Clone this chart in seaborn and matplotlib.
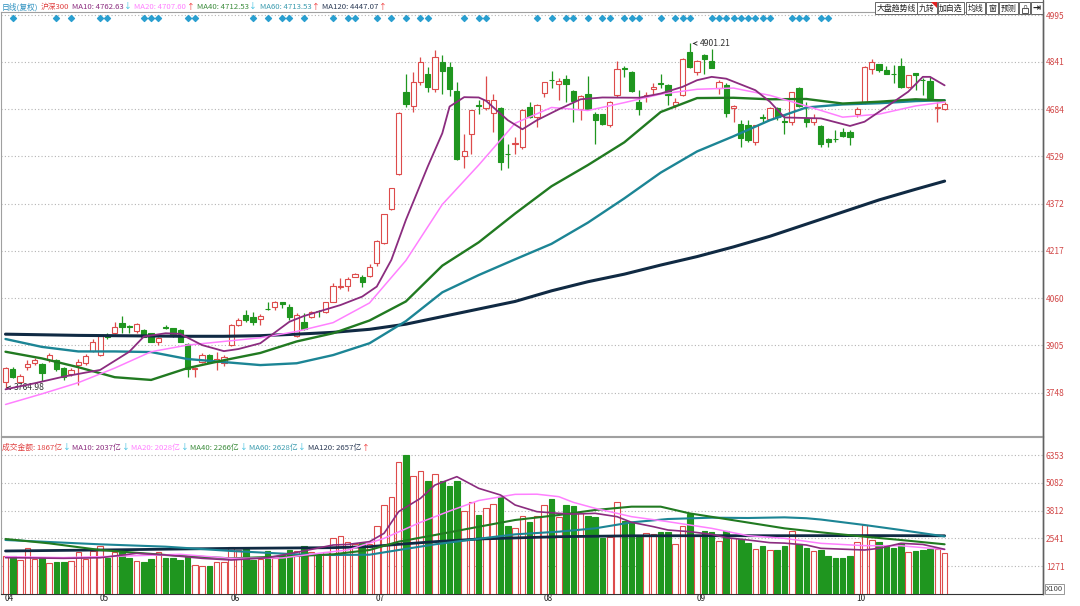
import matplotlib
matplotlib.use("Agg")
import matplotlib.pyplot as plt
import matplotlib.transforms as mtransforms
from matplotlib.patches import Rectangle, Polygon
import seaborn as sns

# ==============================
# data (index 0 = first candle, mid April)
# ==============================
opens = [3785, 3826, 3785, 3835, 3848, 3844, 3857, 3857, 3829, 3811,
         3840, 3846, 3888, 3873, 3939, 3945, 3980, 3968, 3954, 3956,
         3945, 3917, 3967, 3961, 3956, 3910, 3826, 3851, 3873, 3851,
         3846, 3906, 3972, 4005, 4000, 3991, 4026, 4030, 4047, 4032,
         3936, 3983, 3997, 4020, 4016, 4049, 4099, 4101, 4131, 4129,
         4134, 4178, 4242, 4355, 4469, 4742, 4696, 4775, 4800, 4750,
         4839, 4822, 4745, 4530, 4601, 4698, 4687, 4673, 4687, 4538,
         4569, 4560, 4692, 4659, 4739, 4782, 4766, 4783, 4745, 4684,
         4733, 4668, 4668, 4632, 4731, 4821, 4808, 4709, 4728, 4750,
         4770, 4764, 4698, 4731, 4874, 4808, 4863, 4843, 4755, 4764,
         4687, 4635, 4632, 4577, 4658, 4652, 4687, 4645, 4641, 4753,
         4656, 4643, 4629, 4586, 4587, 4610, 4610, 4668, 4709, 4816,
         4833, 4813, 4801, 4827, 4758, 4803, 4781, 4778, 4687, 4684]
closes = [3829, 3802, 3805, 3843, 3857, 3813, 3873, 3826, 3802, 3824,
          3851, 3870, 3917, 3936, 3932, 3967, 3967, 3966, 3974, 3934,
          3917, 3928, 3961, 3939, 3917, 3826, 3830, 3873, 3851, 3859,
          3868, 3972, 3989, 3989, 3983, 4003, 4024, 4049, 4043, 3999,
          4005, 3959, 4016, 4017, 4047, 4101, 4101, 4123, 4139, 4114,
          4164, 4249, 4338, 4423, 4673, 4703, 4775, 4841, 4758, 4855,
          4810, 4750, 4519, 4546, 4681, 4695, 4714, 4714, 4511, 4535,
          4573, 4681, 4659, 4698, 4773, 4780, 4778, 4766, 4712, 4728,
          4684, 4648, 4637, 4708, 4816, 4818, 4744, 4684, 4731, 4758,
          4767, 4731, 4709, 4849, 4822, 4844, 4850, 4821, 4773, 4673,
          4695, 4588, 4582, 4632, 4655, 4689, 4659, 4641, 4740, 4696,
          4641, 4656, 4568, 4575, 4585, 4597, 4591, 4685, 4824, 4841,
          4813, 4802, 4799, 4758, 4797, 4797, 4779, 4720, 4692, 4700]
highs = [3833, 3833, 3809, 3857, 3865, 3848, 3880, 3861, 3833, 3829,
         3859, 3877, 3925, 3939, 3947, 3983, 4002, 3972, 3978, 3958,
         3947, 3934, 3972, 3963, 3958, 3912, 3835, 3879, 3877, 3884,
         3873, 3976, 3994, 4022, 4016, 4008, 4049, 4052, 4049, 4043,
         4013, 4011, 4019, 4021, 4049, 4112, 4126, 4129, 4145, 4137,
         4175, 4252, 4340, 4425, 4676, 4802, 4806, 4857, 4825, 4880,
         4863, 4841, 4775, 4602, 4681, 4714, 4794, 4736, 4692, 4571,
         4593, 4684, 4709, 4700, 4775, 4811, 4786, 4797, 4747, 4730,
         4794, 4676, 4670, 4711, 4844, 4827, 4810, 4747, 4742, 4772,
         4802, 4766, 4720, 4852, 4901.21, 4846, 4868, 4882, 4780, 4770,
         4698, 4648, 4648, 4632, 4668, 4692, 4692, 4670, 4742, 4756,
         4709, 4668, 4632, 4588, 4615, 4621, 4615, 4692, 4827, 4849,
         4835, 4827, 4830, 4852, 4797, 4805, 4786, 4791, 4709, 4709]
lows = [3764.98, 3796, 3782, 3824, 3840, 3789, 3850, 3822, 3791, 3805,
        3774, 3840, 3884, 3870, 3925, 3943, 3945, 3945, 3945, 3932,
        3915, 3906, 3958, 3932, 3915, 3802, 3802, 3848, 3846, 3824,
        3837, 3903, 3969, 3983, 3972, 3972, 4021, 4021, 4029, 3988,
        3933, 3957, 3994, 3999, 4011, 4047, 4090, 4085, 4129, 4096,
        4131, 4167, 4239, 4352, 4467, 4692, 4676, 4764, 4742, 4742,
        4734, 4728, 4516, 4489, 4538, 4668, 4681, 4610, 4483, 4489,
        4538, 4552, 4654, 4626, 4725, 4753, 4714, 4709, 4643, 4648,
        4681, 4571, 4632, 4626, 4725, 4791, 4742, 4665, 4709, 4731,
        4753, 4698, 4687, 4728, 4819, 4797, 4802, 4819, 4736, 4660,
        4643, 4560, 4577, 4566, 4643, 4648, 4648, 4604, 4632, 4692,
        4626, 4632, 4560, 4558, 4577, 4593, 4566, 4659, 4703, 4802,
        4808, 4800, 4770, 4753, 4753, 4747, 4731, 4717, 4643, 4681]
volumes = [1746, 1746, 1547, 2081, 1578, 1624, 1395, 1471, 1441, 1502,
           1898, 1578, 1959, 2203, 1654, 1929, 1898, 1624, 1502, 1471,
           1593, 1929, 1654, 1624, 1547, 1730, 1318, 1288, 1288, 1441,
           1441, 2127, 2005, 2051, 1547, 1593, 1959, 1624, 1776, 2005,
           1959, 2188, 1898, 1776, 1929, 2570, 2661, 2387, 2265, 2310,
           2265, 3104, 4065, 4447, 6018, 6353, 5393, 5622, 5164, 5469,
           5164, 4935, 5164, 3790, 4218, 3620, 3913, 4096, 4447, 3104,
           2997, 3562, 3302, 3562, 4065, 4340, 3531, 4065, 4035, 3684,
           3577, 3531, 2570, 2615, 4218, 3333, 3272, 2615, 2768, 2722,
           2844, 2814, 2265, 3104, 3638, 2692, 2875, 2814, 2432, 2875,
           2539, 2493, 2326, 2036, 2188, 1990, 2005, 2203, 2875, 2265,
           2081, 1959, 2005, 1730, 1654, 1654, 1730, 2356, 3150, 2463,
           2356, 2203, 2081, 2310, 1898, 1959, 1990, 2051, 2051, 1867]

# moving averages of price, read at sample candles
ma_idx = [0, 5, 10, 15, 20, 25, 30, 35, 40, 45, 50, 55, 60, 65, 70, 75, 80,
          85, 90, 95, 100, 105, 110, 115, 120, 125, 129]
ma20_vals = [3710, 3745, 3782, 3830, 3884, 3906, 3918, 3930, 3951, 3980, 4045,
             4185, 4370, 4500, 4638, 4690, 4680, 4706, 4734, 4750, 4754, 4730,
             4695, 4658, 4668, 4695, 4708]
ma40_vals = [3884, 3862, 3833, 3800, 3791, 3830, 3856, 3880, 3918, 3945, 3987,
             4050, 4168, 4245, 4340, 4430, 4500, 4575, 4675, 4721, 4722, 4717,
             4718, 4703, 4709, 4717, 4713]
ma60_vals = [3926, 3900, 3885, 3885, 3883, 3860, 3850, 3840, 3846, 3873, 3912,
             3985, 4080, 4137, 4189, 4240, 4310, 4390, 4475, 4545, 4595, 4648,
             4690, 4700, 4704, 4711, 4714]
ma120_vals = [3942, 3940, 3938, 3937, 3936, 3935, 3935, 3937, 3942, 3948, 3958,
              3975, 4000, 4025, 4050, 4085, 4115, 4140, 4170, 4198, 4230, 4265,
              4305, 4345, 4385, 4420, 4447]
ma10_idx = [0, 4, 8, 13, 17, 19, 22, 24, 27, 30, 32, 35, 39, 41, 46, 49, 51,
            53, 55, 58, 60, 61, 63, 65, 66, 69, 71, 73, 76, 79, 82, 87, 90, 93,
            95, 97, 99, 103, 105, 107, 112, 116, 118, 121, 124, 126, 127, 129]
ma10_vals = [3760, 3780, 3802, 3824, 3884, 3934, 3945, 3943, 3906, 3886, 3893,
             3912, 3983, 4002, 4038, 4066, 4099, 4187, 4319, 4495, 4605, 4693,
             4724, 4723, 4712, 4648, 4618, 4648, 4684, 4717, 4723, 4722, 4736,
             4758, 4780, 4791, 4785, 4747, 4709, 4657, 4654, 4629, 4643, 4692,
             4742, 4791, 4791, 4763]

# moving averages of turnover
vma10_idx = [0, 8, 13, 18, 22, 27, 31, 36, 40, 45, 47, 50, 52, 54, 57, 59, 62,
             65, 68, 70, 73, 76, 78, 81, 84, 86, 89, 91, 94, 97, 99, 102, 105,
             107, 110, 112, 118, 120, 123, 126, 129]
vma10_vals = [1654, 1624, 1650, 1853, 1780, 1624, 1547, 1650, 1898, 2234, 2260,
              2387, 2768, 3760, 4370, 4981, 5362, 4828, 4523, 4065, 3760, 3684,
              3650, 3684, 3531, 3272, 3073, 2920, 2844, 2722, 2570, 2463, 2341,
              2320, 2234, 2081, 2005, 2081, 2310, 2260, 2037]
vma20_idx = [0, 8, 18, 24, 31, 38, 43, 47, 52, 57, 61, 65, 70, 73, 76, 78, 81,
             86, 91, 97, 102, 107, 112, 118, 123, 129]
vma20_vals = [1700, 1654, 1746, 1807, 1624, 1640, 1853, 2005, 2539, 3272, 3790,
              4270, 4553, 4560, 4447, 4187, 3913, 3531, 3302, 2997, 2661, 2539,
              2310, 2203, 2200, 2028]
vma40_idx = [0, 6, 13, 22, 31, 40, 45, 50, 54, 59, 65, 70, 76, 81, 86, 90, 94,
             99, 107, 112, 118, 123, 129]
vma40_vals = [2509, 2310, 2005, 1776, 1624, 1730, 1807, 2005, 2387, 2692, 3070,
              3379, 3607, 3836, 3989, 3989, 3680, 3420, 2997, 2814, 2615, 2463,
              2266]
vma60_idx = [0, 13, 22, 31, 40, 45, 50, 54, 59, 65, 70, 76, 81, 86, 91, 97,
             102, 107, 110, 112, 118, 123, 129]
vma60_vals = [2463, 2265, 2158, 1960, 1807, 1776, 1790, 2005, 2265, 2520, 2722,
              2844, 2997, 3272, 3424, 3485, 3470, 3500, 3460, 3400, 3150, 2920,
              2628]
vma120_idx = [0, 13, 31, 45, 50, 54, 59, 65, 76, 86, 97, 107, 118, 129]
vma120_vals = [1960, 2005, 2080, 2112, 2158, 2265, 2387, 2509, 2615, 2655, 2660,
               2660, 2665, 2657]

# candles carrying the blue diamond marker on top
signal_idx = [1, 7, 9, 13, 14, 19, 20, 21, 25, 26, 34, 36, 38, 39, 41, 45, 47,
              48, 51, 53, 55, 57, 58, 63, 65, 66, 73, 75, 77, 78, 80, 82, 83,
              85, 86, 87, 90, 92, 93, 94, 97, 98, 99, 100, 101, 102, 103, 104,
              105, 108, 109, 110, 112, 113]

price_ticks = [3748, 3905, 4060, 4217, 4372, 4529, 4684, 4841, 4995]
vol_ticks = [1271, 2541, 3812, 5082, 6353]
month_idx = [0, 13, 31, 51, 74, 95, 117]
month_labels = ["04", "05", "06", "07", "08", "09", "10"]

# ==============================
# style
# ==============================
sns.set_style("white")
plt.rcParams['font.family'] = ['Noto Sans CJK SC', 'DejaVu Sans']

RED = '#dd4b4b'
GREEN = '#1f961f'
C10, C20, C40, C60, C120 = '#8b2c7f', '#ff80ff', '#217a21', '#1c8595', '#102a43'
AXIS_RED = '#d24848'

W, H = 1080, 606
fig = plt.figure(figsize=(W / 100, H / 100), dpi=100)
fig.patch.set_facecolor('white')

X_LEFT, X_RIGHT = 1, 1043
XLIM = ((X_LEFT - 5.5) / 7.28, (X_RIGHT - 5.5) / 7.28)

ax = fig.add_axes([X_LEFT / W, 1 - 436 / H, (X_RIGHT - X_LEFT) / W, 424 / H])
axv = fig.add_axes([X_LEFT / W, 1 - 593.8 / H, (X_RIGHT - X_LEFT) / W, 156.8 / H])


def setup(a, ticks, ylim):
    a.set_xlim(*XLIM)
    a.set_ylim(*ylim)
    a.set_yticks(ticks)
    a.set_yticklabels([str(t) for t in ticks])
    a.yaxis.tick_right()
    a.tick_params(axis='y', length=0, pad=2, labelsize=6, labelcolor=AXIS_RED)
    a.grid(axis='y', linestyle=(0, (1, 2)), color='#b4b4b4', lw=0.8)
    a.grid(axis='x', visible=False)
    for s in ['left', 'top', 'bottom']:
        a.spines[s].set_color('#a0a0a0')
        a.spines[s].set_linewidth(0.8)
    a.spines['right'].set_color('#606060')
    a.spines['right'].set_linewidth(1.0)
    a.set_xlabel('')
    a.set_ylabel('')


# ==============================
# 1. price candles + MAs
# ==============================
n = len(opens)
for i in range(n):
    o, c, h, l = opens[i], closes[i], highs[i], lows[i]
    rise = c >= o
    col = RED if rise else GREEN
    top, bot = max(o, c), min(o, c)
    ax.vlines(i, top, h, color=col, lw=0.9, zorder=2)
    ax.vlines(i, l, bot, color=col, lw=0.9, zorder=2)
    ax.bar(i, max(top - bot, 1.5), bottom=bot, width=0.72,
           facecolor='white' if rise else col, edgecolor=col, lw=0.8, zorder=3)

sns.lineplot(x=ma_idx, y=ma120_vals, ax=ax, color=C120, lw=2.2, zorder=4)
sns.lineplot(x=ma_idx, y=ma60_vals, ax=ax, color=C60, lw=1.7, zorder=4)
sns.lineplot(x=ma_idx, y=ma40_vals, ax=ax, color=C40, lw=1.7, zorder=4)
sns.lineplot(x=ma_idx, y=ma20_vals, ax=ax, color=C20, lw=1.1, zorder=4)
sns.lineplot(x=ma10_idx, y=ma10_vals, ax=ax, color=C10, lw=1.3, zorder=5)

setup(ax, price_ticks, (3606, 5005))
ax.set_xticks([])
ax.scatter(signal_idx, [0.987] * len(signal_idx), marker='D', s=9,
           color='#2a9fd0', transform=ax.get_xaxis_transform(), zorder=6,
           clip_on=False)

lo_i = lows.index(min(lows))
hi_i = highs.index(max(highs))
ax.annotate(f"{lows[lo_i]:.2f}", xy=(lo_i - 0.3, lows[lo_i]), xytext=(lo_i + 1.2, lows[lo_i]),
            va='center', fontsize=6.2, color='#333333',
            arrowprops=dict(arrowstyle='->', color='#333333', lw=0.7))
ax.annotate(f"{highs[hi_i]:.2f}", xy=(hi_i, highs[hi_i]), xytext=(hi_i + 1.4, highs[hi_i]),
            va='center', fontsize=6.2, color='#333333',
            arrowprops=dict(arrowstyle='->', color='#333333', lw=0.7))

# ==============================
# 2. turnover bars + MAs
# ==============================
for i in range(n):
    rise = closes[i] >= opens[i]
    col = RED if rise else GREEN
    axv.bar(i, volumes[i], width=0.76, facecolor='white' if rise else col,
            edgecolor=col, lw=0.8, zorder=3)

sns.lineplot(x=vma120_idx, y=vma120_vals, ax=axv, color=C120, lw=2.0, zorder=4)
sns.lineplot(x=vma60_idx, y=vma60_vals, ax=axv, color=C60, lw=1.5, zorder=4)
sns.lineplot(x=vma40_idx, y=vma40_vals, ax=axv, color=C40, lw=1.5, zorder=4)
sns.lineplot(x=vma20_idx, y=vma20_vals, ax=axv, color=C20, lw=1.1, zorder=4)
sns.lineplot(x=vma10_idx, y=vma10_vals, ax=axv, color=C10, lw=1.2, zorder=5)

setup(axv, vol_ticks, (0, 156.8 * 45.78))
axv.spines['bottom'].set_color('#333333')
axv.set_xticks([m - 0.45 for m in month_idx])
axv.set_xticklabels(month_labels)
axv.tick_params(axis='x', length=6, width=0.7, color='#555555', pad=-6,
                labelsize=6, labelcolor='#222222', direction='out')
shift = mtransforms.ScaledTranslation(2.5 / 100, 0, fig.dpi_scale_trans)
for lab in axv.get_xticklabels():
    lab.set_horizontalalignment('left')
    lab.set_transform(lab.get_transform() + shift)

fig.text(1046 / W, 1 - 589 / H, "X100", fontsize=5.5, color='#444444', va='center',
         bbox=dict(boxstyle='square,pad=0.15', fc='white', ec='#888888', lw=0.6))

# ==============================
# 3. header legends and buttons
# ==============================
renderer = fig.canvas.get_renderer()
UP, DN = '#ee3333', '#33bbdd'


def chain(x, y, items, size=5.6, gap=2.5):
    # items: (text, colour, arrow or None), laid out left to right
    for s, color, arrow in items:
        t = fig.text(x / W, 1 - y / H, s, color=color, fontsize=size, va='center', ha='left')
        x = t.get_window_extent(renderer).x1
        if arrow:
            a = fig.text((x + 0.5) / W, 1 - y / H, arrow, color=UP if arrow == "↑" else DN,
                         fontsize=size, va='center', ha='left')
            x = a.get_window_extent(renderer).x1
        x += gap


chain(2, 7, [("日线(复权)", '#2a8fbf', None),
             ("沪深300", '#e04040', None),
             ("MA10: 4762.63", C10, "↓"),
             ("MA20: 4707.60", C20, "↑"),
             ("MA40: 4712.53", '#3c8c3c', "↓"),
             ("MA60: 4713.53", '#3c9caf', "↑"),
             ("MA120: 4447.07", '#2b3a55', "↑")])

chain(2, 448, [("成交金额: 1867亿", '#e04040', "↓"),
               ("MA10: 2037亿", C10, "↓"),
               ("MA20: 2028亿", C20, "↓"),
               ("MA40: 2266亿", '#3c8c3c', "↓"),
               ("MA60: 2628亿", '#3c9caf', "↓"),
               ("MA120: 2657亿", '#2b3a55', "↑")], gap=2)

buttons = [(875, 917, "大盘趋势线"), (917, 937, "九转"), (938, 964, "加自选"),
           (966, 985, "均线"), (986, 998, "窗"), (999, 1018, "预测"),
           (1019, 1030, ""), (1031, 1043, "")]
for x0, x1, label in buttons:
    fig.patches.append(Rectangle((x0 / W, 1 - 14 / H), (x1 - x0) / W, 12 / H,
                                 transform=fig.transFigure, fc='white',
                                 ec='#666666', lw=0.7))
    if label:
        fig.text((x0 + x1) / 2 / W, 1 - 8 / H, label, fontsize=5.7, color='#222222',
                 ha='center', va='center')
fig.patches.append(Polygon([(931 / W, 1 - 2 / H), (937 / W, 1 - 2 / H), (937 / W, 1 - 8 / H)],
                           closed=True, transform=fig.transFigure, fc='#e02020', ec='none'))
# lock icon
fig.patches.append(Rectangle((1021.5 / W, 1 - 12.5 / H), 6 / W, 4.5 / H,
                             transform=fig.transFigure, fc='white', ec='#555555', lw=0.7))
fig.text(1024.5 / W, 1 - 6.5 / H, "∩", fontsize=5, color='#555555', ha='center',
         va='center', family='DejaVu Sans')
fig.text(1037 / W, 1 - 8 / H, "⇥", fontsize=7, color='#222222', ha='center',
         va='center', family='DejaVu Sans', weight='bold')

# right-hand axis line over the whole height
fig.add_artist(plt.Line2D([X_RIGHT / W, X_RIGHT / W], [1 - 594 / H, 1.0],
                          transform=fig.transFigure, color='#606060', lw=1.0))

fig.savefig("out.png", dpi=100, facecolor='white')
